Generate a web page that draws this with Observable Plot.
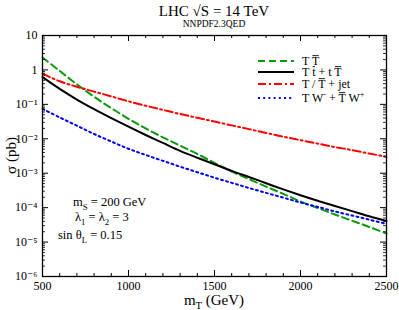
<!DOCTYPE html>
<html>
<head>
<meta charset="utf-8">
<script src="https://cdn.jsdelivr.net/npm/d3@7"></script>
<script src="https://cdn.jsdelivr.net/npm/@observablehq/plot@0.6"></script>
<style>
  html, body { margin: 0; padding: 0; background: #fff; }
</style>
</head>
<body>
<div id="chart"></div>
<script>
// ---- data (σ in pb vs m_T in GeV) ----
const mT = [500,600,700,800,900,1000,1100,1200,1300,1400,1500,1600,1700,1800,1900,2000,2100,2200,2300,2400,2500];
const sigmaTTbar = [2.29,0.933,0.380,0.166,0.0776,0.0380,0.0200,0.0110,0.00631,0.00363,0.00200,0.00112,6.76e-4,4.07e-4,2.51e-4,1.51e-4,9.77e-5,6.31e-5,4.17e-5,2.75e-5,1.78e-5];
const sigmaTt = [0.617,0.282,0.138,0.0724,0.0398,0.0224,0.0129,0.00759,0.00447,0.00282,0.00182,0.00117,7.76e-4,5.13e-4,3.39e-4,2.29e-4,1.58e-4,1.12e-4,7.94e-5,5.62e-5,4.07e-5];
const sigmaTjet = [0.776,0.468,0.324,0.234,0.170,0.123,0.0912,0.0692,0.0525,0.0407,0.0316,0.0245,0.0191,0.0148,0.0115,0.00912,0.00724,0.00575,0.00468,0.00372,0.00302];
const sigmaTW = [0.0741,0.0417,0.0240,0.0138,0.00832,0.00513,0.00339,0.00229,0.00155,0.00107,7.41e-4,5.25e-4,3.72e-4,2.69e-4,1.95e-4,1.41e-4,1.05e-4,7.76e-5,5.89e-5,4.47e-5,3.39e-5];

const xTickLabels = [500,1000,1500,2000,2500];
const yTickLabels = ["10\u207B\u2076","10\u207B\u2075","10\u207B\u2074","10\u207B\u00B3","10\u207B\u00B2","10\u207B\u00B9","1","10"];
const yDecades = [1e-6,1e-5,1e-4,1e-3,1e-2,1e-1,1,10];

// ---- layout ----
const W = 399, H = 310;
const mL = 42, mR = 13, mT_ = 35, mB = 34;
const fw = W - mL - mR, fh = H - mT_ - mB;
const FONT = "'Liberation Serif', 'DejaVu Serif', serif";

const series = [
  {y: sigmaTTbar, stroke: "#0a9a0a", dash: "7,4"},
  {y: sigmaTt, stroke: "#000000", dash: null},
  {y: sigmaTjet, stroke: "#ff0000", dash: "8,3,2,3"},
  {y: sigmaTW, stroke: "#0000ff", dash: "2,3.2"}
];
const lineMarks = series.map(s => Plot.line(mT.map((m, i) => ({m, v: s.y[i]})), {
  x: "m", y: "v", stroke: s.stroke, strokeWidth: 2, strokeDasharray: s.dash, curve: "catmull-rom"
}));

// ticks
const xMinor = d3.range(500, 2501, 100).filter(v => v % 500 !== 0);
const yMinor = [];
for (const d of yDecades.slice(0, -1)) for (let k = 2; k <= 9; k++) yMinor.push(d * k);
const MAJ = 6, MIN = 3;

const plot = Plot.plot({
  width: W, height: H,
  marginLeft: mL, marginRight: mR, marginTop: mT_, marginBottom: mB,
  style: {fontFamily: FONT, background: "#fff", color: "#000"},
  x: {domain: [500, 2500]},
  y: {type: "log", domain: [1e-6, 10]},
  marks: [
    ...lineMarks,
    Plot.frame({stroke: "#000", strokeWidth: 1.3}),
    Plot.ruleX(xTickLabels, {x: d => d, insetTop: fh - MAJ, stroke: "#000"}),
    Plot.ruleX(xMinor, {x: d => d, insetTop: fh - MIN, stroke: "#000"}),
    Plot.ruleX(xTickLabels, {x: d => d, insetBottom: fh - MAJ, stroke: "#000"}),
    Plot.ruleX(xMinor, {x: d => d, insetBottom: fh - MIN, stroke: "#000"}),
    Plot.ruleY(yDecades, {y: d => d, insetRight: fw - MAJ, stroke: "#000"}),
    Plot.ruleY(yMinor, {y: d => d, insetRight: fw - MIN, stroke: "#000", strokeWidth: 0.8}),
    Plot.ruleY(yDecades, {y: d => d, insetLeft: fw - MAJ, stroke: "#000"}),
    Plot.ruleY(yMinor, {y: d => d, insetLeft: fw - MIN, stroke: "#000", strokeWidth: 0.8}),
    Plot.axisX({ticks: xTickLabels, tickSize: 0, tickPadding: 5, fontSize: 12, label: null, tickFormat: d => String(d)}),
    Plot.axisY({ticks: yDecades, tickSize: 0, tickPadding: 5, fontSize: 12, label: null,
      tickFormat: d => yTickLabels[yDecades.indexOf(d)]})
  ]
});

document.getElementById("chart").appendChild(plot);

// ---- rich text annotations ----
const svg = d3.select(plot);
const g = svg.append("g").attr("font-family", FONT).attr("fill", "#000");

function rich(x, y, parts, size, anchor = "start") {
  const t = g.append("text").attr("x", x).attr("y", y).attr("font-size", size).attr("text-anchor", anchor);
  let shift = 0;
  const overs = [];
  for (const [txt, kind] of parts) {
    let target = 0;
    if (kind === "sub") target = size * 0.28;
    else if (kind === "sup") target = -size * 0.38;
    const sp = t.append("tspan").text(txt);
    if (target !== shift) { sp.attr("dy", target - shift); shift = target; }
    if (kind === "sub" || kind === "sup") sp.attr("font-size", size * 0.7);
    if (kind === "over") overs.push(sp);
  }
  for (const sp of overs) {
    const n = sp.node();
    const p = n.getStartPositionOfChar(0);
    const w = n.getComputedTextLength();
    g.append("line").attr("x1", p.x + 0.5).attr("x2", p.x + w - 0.5)
      .attr("y1", y - size * 0.78).attr("y2", y - size * 0.78)
      .attr("stroke", "#000").attr("stroke-width", 0.9);
  }
  return t;
}

// title
rich(mL + fw / 2, 16, [["LHC \u221AS = 14 TeV"]], 15, "middle");
rich(mL + fw / 2, 27, [["NNPDF2.3QED"]], 9.5, "middle");

// axis labels
rich(mL + fw / 2, 305, [["m"], ["T", "sub"], [" (GeV)"]], 15, "middle");
g.append("text").attr("transform", `translate(16,${mT_ + fh / 2}) rotate(-90)`)
  .attr("text-anchor", "middle").attr("font-size", 15).text("\u03C3 (pb)");

// legend
const legend = [
  {stroke: "#0a9a0a", dash: "7,4", y: 61, parts: [["T "], ["T", "over"]]},
  {stroke: "#000000", dash: null, y: 72, parts: [["T "], ["t", "over"], [" + t "], ["T", "over"]]},
  {stroke: "#ff0000", dash: "8,3,2,3", y: 84, parts: [["T / "], ["T", "over"], [" + jet"]]},
  {stroke: "#0000ff", dash: "2,3.2", y: 98, parts: [["T W"], ["-", "sup"], [" + "], ["T", "over"], [" W"], ["+", "sup"]]}
];
for (const L of legend) {
  g.append("line").attr("x1", 258).attr("x2", 294).attr("y1", L.y).attr("y2", L.y)
    .attr("stroke", L.stroke).attr("stroke-width", 2).attr("stroke-dasharray", L.dash);
  rich(302, L.y + 4, L.parts, 12);
}

// parameters
rich(73, 206, [["m"], ["S", "sub"], [" = 200 GeV"]], 12.5);
rich(75, 221, [["\u03BB"], ["1", "sub"], [" = \u03BB"], ["2", "sub"], [" = 3"]], 12.5);
rich(58, 239, [["sin \u03B8"], ["L", "sub"], [" = 0.15"]], 12.5);
</script>
</body>
</html>
